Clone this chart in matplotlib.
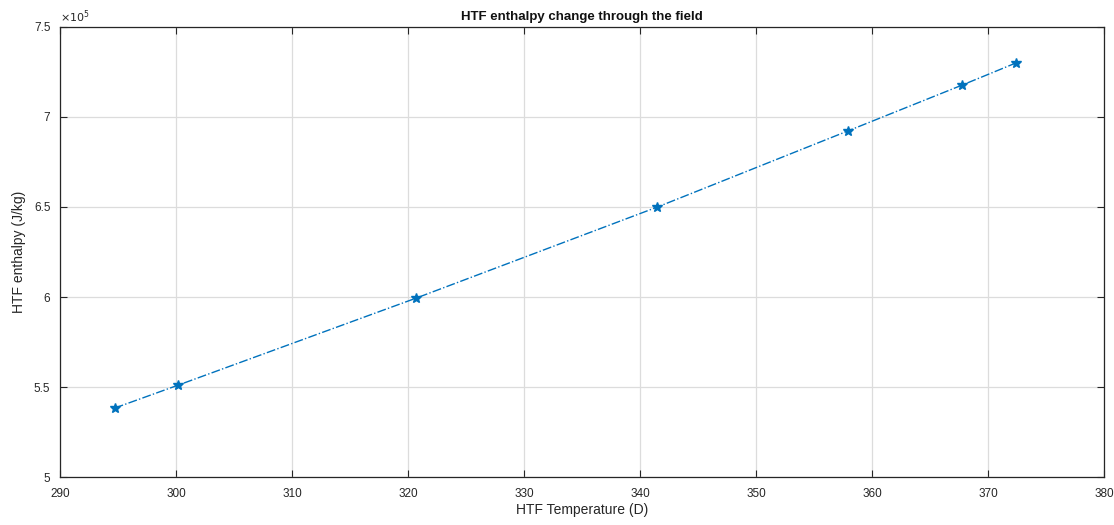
import matplotlib
matplotlib.use("Agg")
import matplotlib.pyplot as plt

temperature = [294.7, 300.2, 320.7, 341.5, 357.9, 367.8, 372.4]
enthalpy = [5.383e5, 5.511e5, 5.994e5, 6.50e5, 6.922e5, 7.178e5, 7.30e5]
x_ticks = [290, 300, 310, 320, 330, 340, 350, 360, 370, 380]
y_ticks = [5.0, 5.5, 6.0, 6.5, 7.0, 7.5]
y_tick_labels = ["5", "5.5", "6", "6.5", "7", "7.5"]

plt.rcParams['font.family'] = ['Liberation Sans', 'DejaVu Sans']
fig = plt.figure(figsize=(11.14, 5.25), dpi=100)
ax = fig.add_axes([0.054, 0.0914, 0.937, 0.8572])

ax.plot(temperature, [v / 1e5 for v in enthalpy], linestyle='-.', color='#0072BD',
        linewidth=1.0, marker='*', markersize=7)

ax.set_xlim(290, 380)
ax.set_ylim(5, 7.5)
ax.set_xticks(x_ticks)
ax.set_yticks(y_ticks)
ax.set_yticklabels(y_tick_labels)
ax.grid(True, color='#dcdcdc', linewidth=0.9)
ax.set_axisbelow(True)
ax.tick_params(direction='in', length=5, labelsize=8.5, colors='#262626',
               top=True, right=True)
ax.tick_params(axis='x', pad=8)
ax.tick_params(axis='y', pad=7)
for s in ax.spines.values():
    s.set_color('#262626')
    s.set_linewidth(0.9)

ax.set_xlabel('HTF Temperature (D)', fontsize=10, color='#262626', labelpad=2)
ax.set_ylabel('HTF enthalpy (J/kg)', fontsize=10, color='#262626', labelpad=6)
ax.set_title('HTF enthalpy change through the field', fontsize=9.5, fontweight='bold',
             color='#111111', pad=5)
ax.text(0.0, 1.005, r'$\times10^5$', transform=ax.transAxes, fontsize=8,
        color='#262626', ha='left', va='bottom')

fig.savefig('out.png', dpi=100)
